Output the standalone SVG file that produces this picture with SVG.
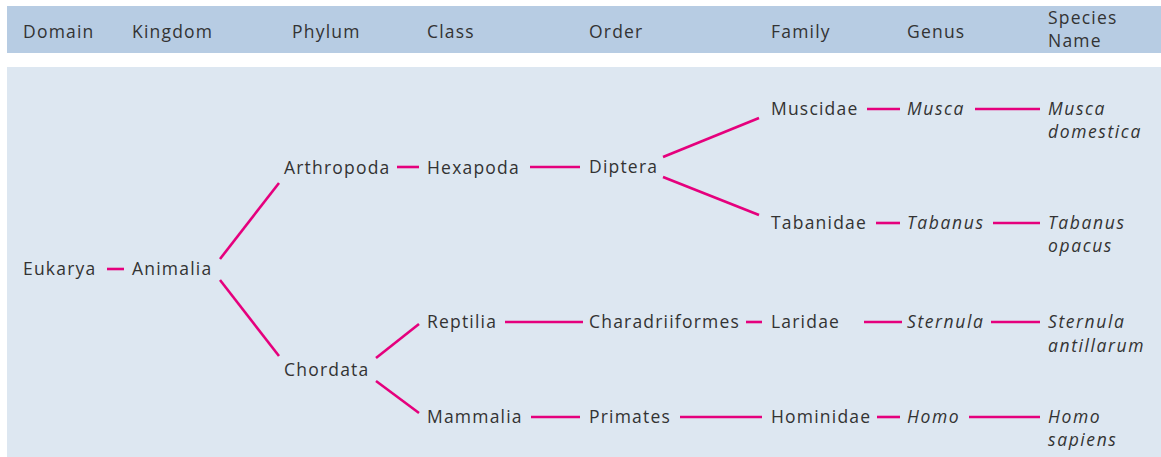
<svg xmlns="http://www.w3.org/2000/svg" width="1161" height="457" viewBox="0 0 1161 457">
<style>
text{font-family:"Open Sans","Liberation Sans",sans-serif;font-size:17.5px;fill:#333;letter-spacing:1.2px}
.i{font-style:italic;letter-spacing:1.6px}
.c line{stroke:#e5007d;stroke-width:2.6;fill:none}
</style>
<rect x="7" y="6" width="1154" height="47" fill="#b7cce3"/>
<rect x="7" y="67" width="1154" height="390" fill="#dde7f1"/>
<g id="header">
<text x="23" y="38">Domain</text>
<text x="132" y="38">Kingdom</text>
<text x="292" y="38">Phylum</text>
<text x="427" y="38">Class</text>
<text x="589" y="38">Order</text>
<text x="771" y="38">Family</text>
<text x="907" y="38">Genus</text>
<text x="1048" y="24">Species</text>
<text x="1048" y="47">Name</text>
</g>
<g class="c" id="connectors">
<line x1="107" y1="269" x2="124" y2="269"/>
<line x1="220" y1="259" x2="279" y2="183"/>
<line x1="220" y1="280" x2="279" y2="356"/>
<line x1="397" y1="167" x2="419" y2="167"/>
<line x1="530" y1="167" x2="580" y2="167"/>
<line x1="663" y1="157" x2="759" y2="118"/>
<line x1="663" y1="177" x2="759" y2="215"/>
<line x1="867" y1="109" x2="900" y2="109"/>
<line x1="975" y1="109" x2="1040" y2="109"/>
<line x1="876" y1="223" x2="900" y2="223"/>
<line x1="993" y1="223" x2="1040" y2="223"/>
<line x1="376" y1="358" x2="419" y2="324"/>
<line x1="376" y1="381" x2="419" y2="413"/>
<line x1="505" y1="322" x2="583" y2="322"/>
<line x1="746" y1="322" x2="762" y2="322"/>
<line x1="864" y1="322" x2="902" y2="322"/>
<line x1="991" y1="322" x2="1040" y2="322"/>
<line x1="531" y1="417" x2="580" y2="417"/>
<line x1="680" y1="417" x2="762" y2="417"/>
<line x1="877" y1="417" x2="900" y2="417"/>
<line x1="969" y1="417" x2="1040" y2="417"/>
</g>
<g id="eukarya"><text x="23" y="275">Eukarya</text></g>
<g id="animalia"><text x="132" y="275">Animalia</text></g>
<g id="arthropoda"><text x="284" y="174">Arthropoda</text></g>
<g id="hexapoda"><text x="427" y="174">Hexapoda</text></g>
<g id="diptera"><text x="589" y="173">Diptera</text></g>
<g id="muscidae"><text x="771" y="115">Muscidae</text></g>
<g id="musca"><text class="i" x="907" y="115">Musca</text></g>
<g id="musca-domestica"><text class="i" x="1048" y="115">Musca</text><text class="i" x="1048" y="138">domestica</text></g>
<g id="tabanidae"><text x="771" y="229">Tabanidae</text></g>
<g id="tabanus"><text class="i" x="907" y="229">Tabanus</text></g>
<g id="tabanus-opacus"><text class="i" x="1048" y="229">Tabanus</text><text class="i" x="1048" y="252">opacus</text></g>
<g id="chordata"><text x="284" y="376">Chordata</text></g>
<g id="reptilia"><text x="427" y="328">Reptilia</text></g>
<g id="charadriiformes"><text x="589" y="328">Charadriiformes</text></g>
<g id="laridae"><text x="771" y="328">Laridae</text></g>
<g id="sternula"><text class="i" x="907" y="328">Sternula</text></g>
<g id="sternula-antillarum"><text class="i" x="1048" y="328">Sternula</text><text class="i" x="1048" y="352">antillarum</text></g>
<g id="mammalia"><text x="427" y="423">Mammalia</text></g>
<g id="primates"><text x="589" y="423">Primates</text></g>
<g id="hominidae"><text x="771" y="423">Hominidae</text></g>
<g id="homo"><text class="i" x="907" y="423">Homo</text></g>
<g id="homo-sapiens"><text class="i" x="1048" y="423">Homo</text><text class="i" x="1048" y="446">sapiens</text></g>
</svg>
